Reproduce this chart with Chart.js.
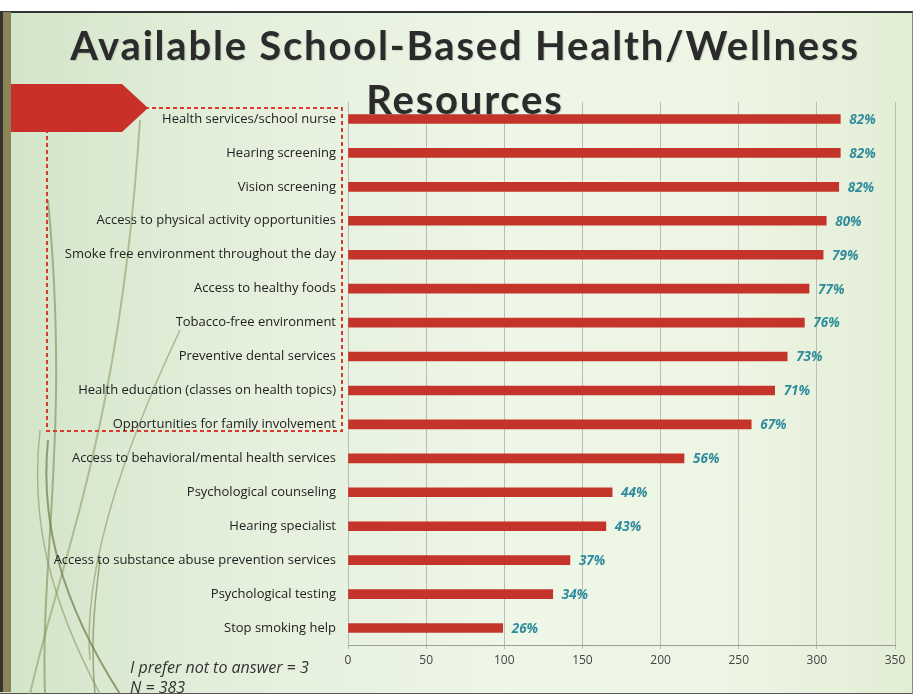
<!DOCTYPE html>
<html>
<head>
<meta charset="utf-8">
<script src="https://cdn.jsdelivr.net/npm/chart.js@4"></script>
<style>
  html, body { margin: 0; padding: 0; }
  body {
    width: 915px; height: 694px; position: relative; overflow: hidden;
    background: #ffffff;
    font-family: "Open Sans", Lato, sans-serif;
  }
  #slide {
    position: absolute; left: 0; top: 11px; width: 912px; height: 680px;
    background: linear-gradient(90deg, #d2e4c8 0%, #e4efdb 25%, #eef6e7 55%, #eef5e4 80%, #e2edd5 100%);
    border-top: 2px solid #333;
    border-bottom: 2px solid #555;
    border-right: 1px solid #888;
  }
  #deco { position: absolute; left: 0; top: 0; }
  #myChart { position: absolute; left: 0; top: 0; }
  #title {
    position: absolute; left: 0; top: 18px; width: 930px; text-align: center;
    font-family: Lato, sans-serif; font-weight: bold; font-size: 40px;
    line-height: 54px; color: #2b2b2b; letter-spacing: 1.8px;
    text-shadow: 1px 1px 1px rgba(0,0,0,0.15);
  }
  #note {
    position: absolute; left: 130px; top: 657px; font-style: italic;
    font-size: 16px; line-height: 20px; color: #333;
  }
</style>
</head>
<body>
<div id="slide"></div>
<svg id="deco" width="915" height="694">
  <rect x="0" y="12" width="3" height="680" fill="#333"/>
  <rect x="3" y="12" width="8" height="680" fill="#8a8456"/>
  <path d="M 30 694 C 60 560, 120 430, 140 120" stroke="#9aa878" stroke-width="2" fill="none" opacity="0.7"/>
  <path d="M 45 694 C 40 560, 70 430, 48 200" stroke="#7f8a55" stroke-width="2" fill="none" opacity="0.6"/>
  <path d="M 120 694 C 60 600, 40 520, 48 440" stroke="#6f7a48" stroke-width="2" fill="none" opacity="0.7"/>
  <path d="M 100 694 C 50 600, 30 520, 40 430" stroke="#8a9460" stroke-width="1.5" fill="none" opacity="0.6"/>
  <path d="M 90 660 C 85 600, 100 500, 180 330" stroke="#8a9460" stroke-width="1.5" fill="none" opacity="0.6"/>
  <path d="M 95 694 C 90 640, 95 600, 100 560" stroke="#6f7a48" stroke-width="1.5" fill="none" opacity="0.6"/>
  <rect x="47" y="108" width="295" height="323" fill="none" stroke="#d83a30" stroke-width="2" stroke-dasharray="4,3"/>
  <polygon points="11,84 122,84 148,108 122,132 11,132" fill="#c9302a"/>
</svg>
<canvas id="myChart" width="915" height="694"></canvas>
<div id="title">Available School-Based Health/Wellness<br>Resources</div>
<div id="note">I prefer not to answer = 3<br>N = 383</div>
<script>
const categorias = [
    "Health services/school nurse",
    "Hearing screening",
    "Vision screening",
    "Access to physical activity opportunities",
    "Smoke free environment throughout the day",
    "Access to healthy foods",
    "Tobacco-free environment",
    "Preventive dental services",
    "Health education (classes on health topics)",
    "Opportunities for family involvement",
    "Access to behavioral/mental health services",
    "Psychological counseling",
    "Hearing specialist",
    "Access to substance abuse prevention services",
    "Psychological testing",
    "Stop smoking help"
];
const valores = [315, 315, 314, 306, 304, 295, 292, 281, 273, 258, 215, 169, 165, 142, 131, 99];
const porcentajes = ["82%", "82%", "82%", "80%", "79%", "77%", "76%", "73%", "71%", "67%", "56%", "44%", "43%", "37%", "34%", "26%"];
const ticksX = [0, 50, 100, 150, 200, 250, 300, 350];

const etiquetas = {
    id: "etiquetas",
    afterDatasetsDraw(chart) {
        const ctx = chart.ctx;
        const meta = chart.getDatasetMeta(0);
        ctx.save();
        ctx.font = "italic bold 13.5px 'Open Sans', sans-serif";
        ctx.fillStyle = "#2f8c9c";
        ctx.textAlign = "left";
        ctx.textBaseline = "middle";
        meta.data.forEach((bar, i) => {
            ctx.fillText(porcentajes[i], bar.x + 9, bar.y + 1);
        });
        ctx.restore();
    }
};

const config = {
    type: "bar",
    data: {
        labels: categorias,
        datasets: [{
            data: valores,
            backgroundColor: "#c5342b",
            borderWidth: 0,
            barThickness: 9
        }]
    },
    options: {
        indexAxis: "y",
        responsive: false,
        animation: false,
        layout: { padding: { left: 0, top: 102, right: 20, bottom: 21 } },
        plugins: {
            legend: { display: false },
            tooltip: { enabled: false }
        },
        scales: {
            x: {
                min: 0,
                max: 350,
                afterFit: (scale) => { scale.height = 28; },
                afterBuildTicks: (scale) => { scale.ticks = ticksX.map(v => ({ value: v })); },
                grid: { color: "#b9bdb2", lineWidth: 1, tickLength: 4 },
                border: { color: "#9a9e94" },
                ticks: {
                    color: "#444",
                    font: { family: "'Open Sans', sans-serif", size: 12 },
                    padding: 4
                }
            },
            y: {
                afterFit: (scale) => { scale.width = 348; },
                grid: { display: false, drawTicks: false },
                border: { display: false },
                ticks: {
                    color: "#222",
                    font: { family: "'Open Sans', sans-serif", size: 13 },
                    padding: 12,
                    autoSkip: false
                }
            }
        }
    },
    plugins: [etiquetas]
};

window.onload = function () {
    const myChart = document.getElementById("myChart");
    new Chart(myChart, config);
};
</script>
</body>
</html>
